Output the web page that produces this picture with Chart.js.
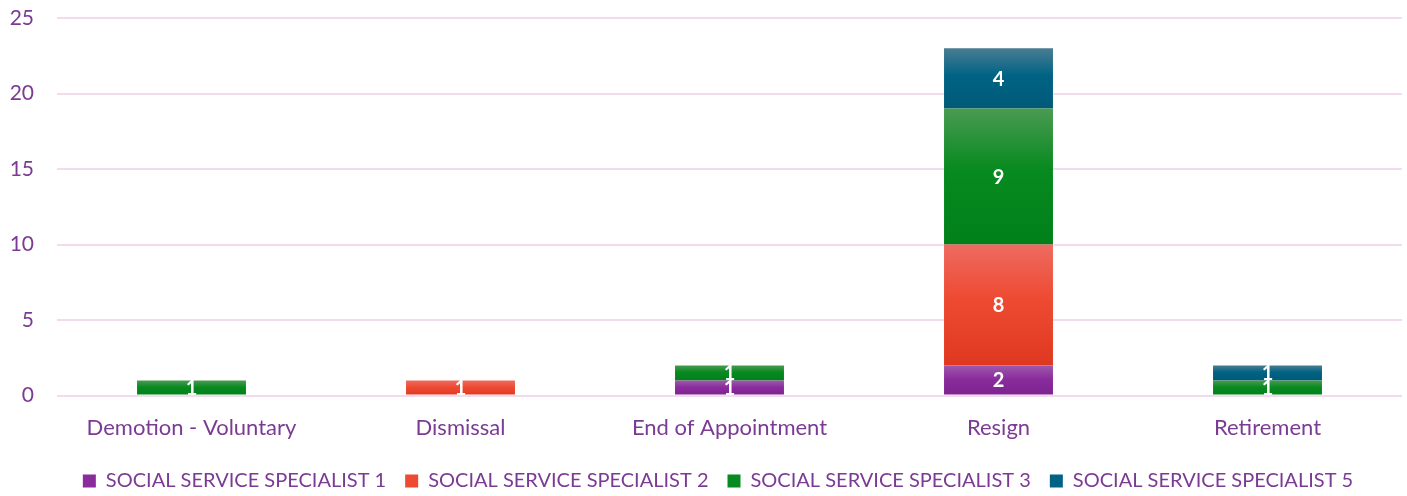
<!DOCTYPE html>
<html>
<head>
<meta charset="utf-8">
<script src="https://cdn.jsdelivr.net/npm/chart.js@4.4.0/dist/chart.umd.min.js"></script>
<style>
    html, body { margin: 0; padding: 0; background: #ffffff; }
    #wrap { width: 1407px; height: 496px; }
</style>
</head>
<body>
<div id="wrap"><canvas id="chart"></canvas></div>
<script>
const categories = ['Demotion - Voluntary', 'Dismissal', 'End of Appointment', 'Resign', 'Retirement'];
const seriesNames = ['SOCIAL SERVICE SPECIALIST 1', 'SOCIAL SERVICE SPECIALIST 2', 'SOCIAL SERVICE SPECIALIST 3', 'SOCIAL SERVICE SPECIALIST 5'];
const specialist1 = [0, 0, 1, 2, 0];
const specialist2 = [0, 1, 0, 8, 0];
const specialist3 = [1, 0, 1, 9, 1];
const specialist5 = [0, 0, 0, 4, 1];
const yTicks = [0, 5, 10, 15, 20, 25];

const seriesValues = [specialist1, specialist2, specialist3, specialist5];
// top colour, middle colour, bottom colour for each series
const palettes = [
    ['#9d5aab', '#8a2c9c', '#7e2290'],
    ['#ee6b60', '#ee4a32', '#df3820'],
    ['#4a9a52', '#078a1f', '#00801a'],
    ['#4a7c92', '#006385', '#005a78']
];
const textPurple = '#7b3a93';
const fontFamily = 'Lato, "Liberation Sans", sans-serif';

function barGradient(context, dsIndex) {
    const chart = context.chart;
    const pal = palettes[dsIndex];
    const yScale = chart.scales.y;
    if (!yScale || context.dataIndex === undefined) return pal[1];
    let start = 0;
    for (let i = 0; i < dsIndex; i++) start += seriesValues[i][context.dataIndex];
    const end = start + seriesValues[dsIndex][context.dataIndex];
    const top = yScale.getPixelForValue(end);
    const bottom = yScale.getPixelForValue(start);
    if (!isFinite(top) || !isFinite(bottom) || top === bottom) return pal[1];
    const g = chart.ctx.createLinearGradient(0, top, 0, bottom);
    g.addColorStop(0, pal[0]);
    g.addColorStop(0.45, pal[1]);
    g.addColorStop(1, pal[2]);
    return g;
}

// draws the white value labels in the middle of each segment
const valueLabels = {
    id: 'valueLabels',
    afterDatasetsDraw(chart) {
        const ctx = chart.ctx;
        ctx.save();
        ctx.fillStyle = '#ffffff';
        ctx.font = 'bold 20px ' + fontFamily;
        ctx.textAlign = 'center';
        ctx.textBaseline = 'middle';
        chart.data.datasets.forEach((ds, di) => {
            const meta = chart.getDatasetMeta(di);
            meta.data.forEach((bar, i) => {
                const v = ds.data[i];
                if (!v) return;
                ctx.fillText(String(v), bar.x, (bar.y + bar.base) / 2 + 1);
            });
        });
        ctx.restore();
    }
};

// legend in the original sits a bit right of the page centre
const legendShift = {
    id: 'legendShift',
    afterLayout(chart) {
        if (chart.legend) {
            chart.legend.left += 15;
            chart.legend.right += 15;
        }
    }
};

const legendPalette = palettes.map(p => p[1]);

new Chart(document.getElementById('chart').getContext('2d'), {
    type: 'bar',
    data: {
        labels: categories,
        datasets: seriesNames.map((name, di) => ({
            label: name,
            data: seriesValues[di],
            backgroundColor: (c) => barGradient(c, di),
            borderWidth: 0,
            categoryPercentage: 0.81,
            barPercentage: 0.5
        }))
    },
    options: {
        responsive: true,
        maintainAspectRatio: false,
        animation: false,
        layout: { padding: { top: 18, right: 5, left: 4, bottom: -5 } },
        scales: {
            x: {
                stacked: true,
                grid: { display: false },
                border: { display: false },
                ticks: {
                    color: textPurple,
                    font: { family: fontFamily, size: 22 },
                    padding: 11
                }
            },
            y: {
                stacked: true,
                min: 0,
                max: 25,
                afterBuildTicks: (axis) => { axis.ticks = yTicks.map(v => ({ value: v })); },
                afterFit: (axis) => { axis.width = 53; },
                grid: { color: '#f1dcef', lineWidth: 2, drawTicks: true, tickLength: 23, tickColor: 'rgba(0,0,0,0)' },
                border: { display: false },
                ticks: {
                    color: textPurple,
                    font: { family: fontFamily, size: 21 },
                    padding: 0
                }
            }
        },
        plugins: {
            legend: {
                position: 'bottom',
                labels: {
                    color: textPurple,
                    font: { family: fontFamily, size: 20 },
                    boxWidth: 13,
                    boxHeight: 13,
                    padding: 19,
                    generateLabels: (chart) => seriesNames.map((name, i) => ({
                        text: name,
                        fillStyle: legendPalette[i],
                        strokeStyle: legendPalette[i],
                        lineWidth: 0,
                        fontColor: textPurple,
                        datasetIndex: i
                    }))
                }
            },
            tooltip: { enabled: false }
        }
    },
    plugins: [valueLabels, legendShift]
});
</script>
</body>
</html>
